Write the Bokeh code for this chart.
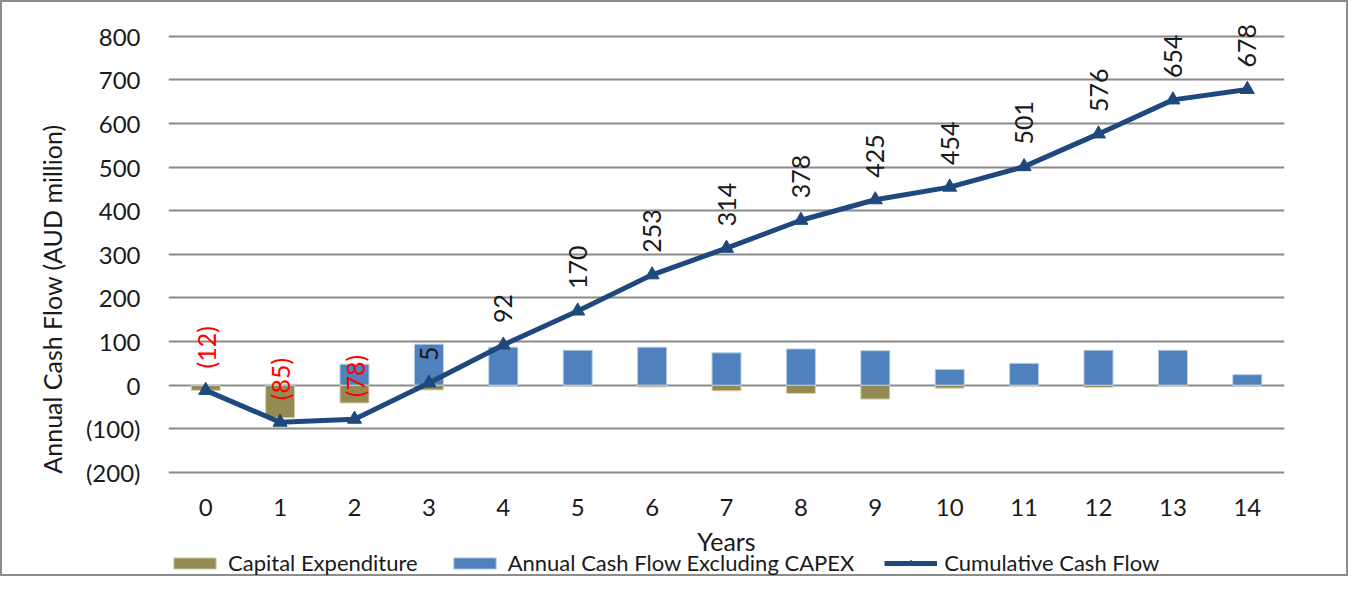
import math
from bokeh.plotting import figure
from bokeh.models import (ColumnDataSource, FixedTicker, Legend, LegendItem, Range1d)
from bokeh.core.properties import value
from bokeh.embed import file_html
from bokeh.resources import INLINE

# ---- data ----
years = [0, 1, 2, 3, 4, 5, 6, 7, 8, 9, 10, 11, 12, 13, 14]
capex = [-12, -75, -41, -11, 0, -2, -4, -13, -19, -32, -7, -3, -5, -2, 0]
annual_ex_capex = [0, 2, 48, 94, 87, 80, 87, 74, 83, 79, 36, 50, 80, 80, 24]
cumulative = [-12, -85, -78, 5, 92, 170, 253, 314, 378, 425, 454, 501, 576, 654, 678]
y_ticks = [-200, -100, 0, 100, 200, 300, 400, 500, 600, 700, 800]
x_labels = [str(y) for y in years]

FONT = "Lato"
OLIVE = "#948A54"
BLUE = "#4F81BD"
NAVY = "#1F497D"
GRID = "#8a8a8a"
TXT = "#1a1a1a"

def fmt(v):
    return f"({abs(v)})" if v < 0 else str(v)

y_min = min(y_ticks)
src = ColumnDataSource(dict(
    x=years, capex=capex, annual=annual_ex_capex, cum=cumulative,
    zero=[0] * len(years),
    base=[y_min] * len(years),
    xl=x_labels,
    lbl=[fmt(v) for v in cumulative],
    lblc=["#FF0000" if v < 0 else TXT for v in cumulative],
))

p = figure(width=1348, height=576, output_backend="svg", toolbar_location=None,
           x_range=Range1d(-0.5, 14.5), y_range=Range1d(-441, 836),
           x_axis_location=None,
           min_border_left=166, min_border_top=18, min_border_right=66,
           min_border_bottom=1)
p.styles = {"border": "2px solid #8c8c8c"}
p.outline_line_color = None
p.background_fill_color = "white"
p.border_fill_color = "white"

bw = 0.39
r_capex = p.vbar(x="x", top="zero", bottom="capex", width=bw, source=src,
                 fill_color=OLIVE, line_color="#d8d3b8", line_width=1)
r_ann = p.vbar(x="x", bottom="zero", top="annual", width=bw, source=src,
               fill_color=BLUE, line_color="#b9cde5", line_width=1)
r_line = p.line(x="x", y="cum", source=src, line_color=NAVY, line_width=5)
r_mark = p.scatter(x="x", y="cum", source=src, marker="triangle", size=14,
                   fill_color=NAVY, line_color=NAVY)

# data labels of the cumulative line
p.text(x="x", y="cum", text="lbl", source=src, angle=math.pi / 2,
       text_align="left", text_baseline="middle", y_offset=-22,
       text_color="lblc", text_font=value(FONT), text_font_size="25px")

# category labels and axis title for the horizontal axis
p.text(x="x", y="base", text="xl", source=src, text_align="center",
       text_baseline="middle", y_offset=35, text_color=TXT,
       text_font=value(FONT), text_font_size="24px")
p.text(x=[(p.x_range.start + p.x_range.end) / 2], y=[y_min], text=["Years"],
       text_align="center", text_baseline="middle", y_offset=69, text_color=TXT,
       text_font=value(FONT), text_font_size="25px")

# y axis
p.yaxis.ticker = FixedTicker(ticks=y_ticks)
p.yaxis.major_label_overrides = {v: fmt(v) for v in y_ticks if v < 0}
p.yaxis.axis_line_color = None
p.yaxis.major_tick_line_color = None
p.yaxis.minor_tick_line_color = None
p.yaxis.major_label_standoff = 22
p.yaxis.major_label_text_font = FONT
p.yaxis.major_label_text_font_size = "24px"
p.yaxis.major_label_text_color = TXT
p.yaxis.axis_label = "Annual Cash Flow (AUD million)"
p.yaxis.axis_label_text_font = FONT
p.yaxis.axis_label_text_font_size = "25px"
p.yaxis.axis_label_text_font_style = "normal"
p.yaxis.axis_label_text_color = TXT
p.yaxis.axis_label_standoff = 16

p.ygrid.ticker = FixedTicker(ticks=y_ticks)
p.ygrid.grid_line_color = GRID
p.ygrid.grid_line_width = 2
p.xgrid.grid_line_color = None

legend = Legend(items=[
    LegendItem(label="Capital Expenditure", renderers=[r_capex]),
    LegendItem(label="Annual Cash Flow Excluding CAPEX", renderers=[r_ann]),
    LegendItem(label="Cumulative Cash Flow", renderers=[r_line, r_mark]),
], location=(0, 1), orientation="horizontal", glyph_width=53,
    glyph_height=14, label_standoff=7, spacing=30, padding=0, margin=0,
    border_line_color=None, background_fill_alpha=0,
    label_text_font=FONT, label_text_font_size="22px", label_height=20,
    label_text_color=TXT)
p.add_layout(legend, "center")

open("out.html", "w").write(file_html(p, INLINE))
